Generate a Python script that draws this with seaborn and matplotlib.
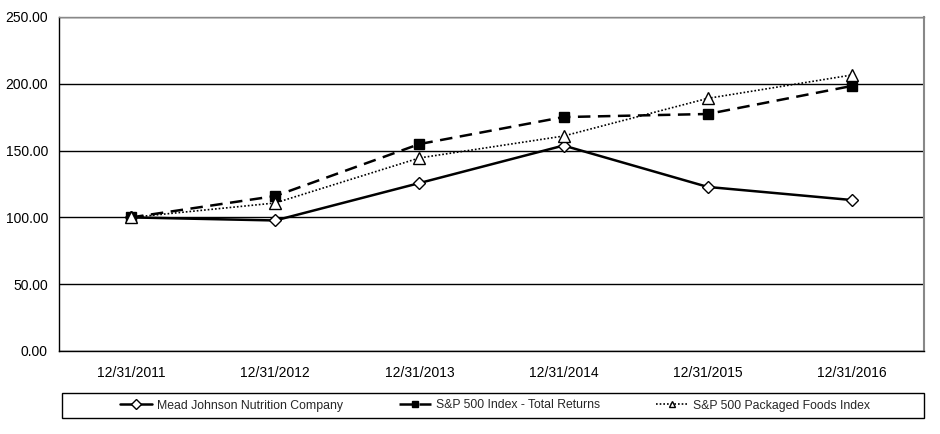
import matplotlib
matplotlib.use("Agg")
import matplotlib.pyplot as plt
from matplotlib.patches import Rectangle
import seaborn as sns
import pandas as pd

years = ["12/31/2011", "12/31/2012", "12/31/2013", "12/31/2014", "12/31/2015", "12/31/2016"]
mead = [100.0, 97.7, 125.7, 153.8, 122.8, 113.0]
sp500 = [100.0, 116.0, 154.9, 175.1, 177.4, 198.4]
foods = [100.0, 110.8, 144.5, 160.9, 189.1, 206.6]
series_names = ["Mead Johnson Nutrition Company", "S&P 500 Index - Total Returns", "S&P 500 Packaged Foods Index"]

sns.set_theme(style="white")
plt.rcParams['font.family'] = ['Liberation Sans', 'DejaVu Sans']

fig = plt.figure(figsize=(9.4, 4.34), dpi=100)
ax = fig.add_axes([59/940, 83/434, 865/940, 334/434])

idx = list(range(len(years)))
styles = [
    dict(data=mead, ls="-", marker="D", ms=6.5, mfc="white", lw=1.8),
    dict(data=sp500, ls=(0, (5, 3)), marker="s", ms=7, mfc="black", lw=1.8),
    dict(data=foods, ls=(0, (1, 1.2)), marker="^", ms=9, mfc="white", lw=1.2),
]
for name, st in zip(series_names, styles):
    df = pd.DataFrame({"x": idx, "y": st["data"]})
    sns.lineplot(data=df, x="x", y="y", ax=ax, color="black", linestyle=st["ls"],
                 marker=st["marker"], markersize=st["ms"], markerfacecolor=st["mfc"],
                 markeredgecolor="black", markeredgewidth=1.0, linewidth=st["lw"], label=name)

ax.set_xlim(-0.5, len(years) - 0.5)
ax.set_ylim(0, 250)
ax.set_yticks([0, 50, 100, 150, 200, 250])
ax.set_yticklabels([f"{v:.2f}" for v in [0, 50, 100, 150, 200, 250]], fontsize=10)
ax.set_xticks(idx)
ax.set_xticklabels(years, fontsize=10)
ax.set_xlabel("")
ax.set_ylabel("")
ax.yaxis.grid(True, color="black", linewidth=1.0)
ax.set_axisbelow(True)
ax.tick_params(axis="both", which="both", direction="out", length=5, width=1, color="black", labelcolor="black", pad=3)
ax.tick_params(axis="x", pad=6)
for s in ["left", "bottom"]:
    ax.spines[s].set_color("black")
    ax.spines[s].set_linewidth(1.0)
ax.spines["top"].set_color("#888888")
ax.spines["right"].set_color("#888888")
ax.spines["top"].set_linewidth(1.0)
ax.spines["right"].set_linewidth(1.5)

ax.get_legend().remove()
handles, labels = ax.get_legend_handles_labels()
fig.patches.append(Rectangle((62/940, 16/434), 862/940, 25/434, transform=fig.transFigure,
                             fill=False, edgecolor="black", linewidth=1.0))
leg = fig.legend(handles, labels, loc="center", ncol=3,
                 bbox_to_anchor=(495/940, 28.5/434),
                 frameon=False, fontsize=8.8,
                 handlelength=2.6, handletextpad=0.4, borderpad=0.0, columnspacing=4.6)
for h in leg.legend_handles:
    h.set_markersize(5)

fig.savefig("out.png", dpi=100)
